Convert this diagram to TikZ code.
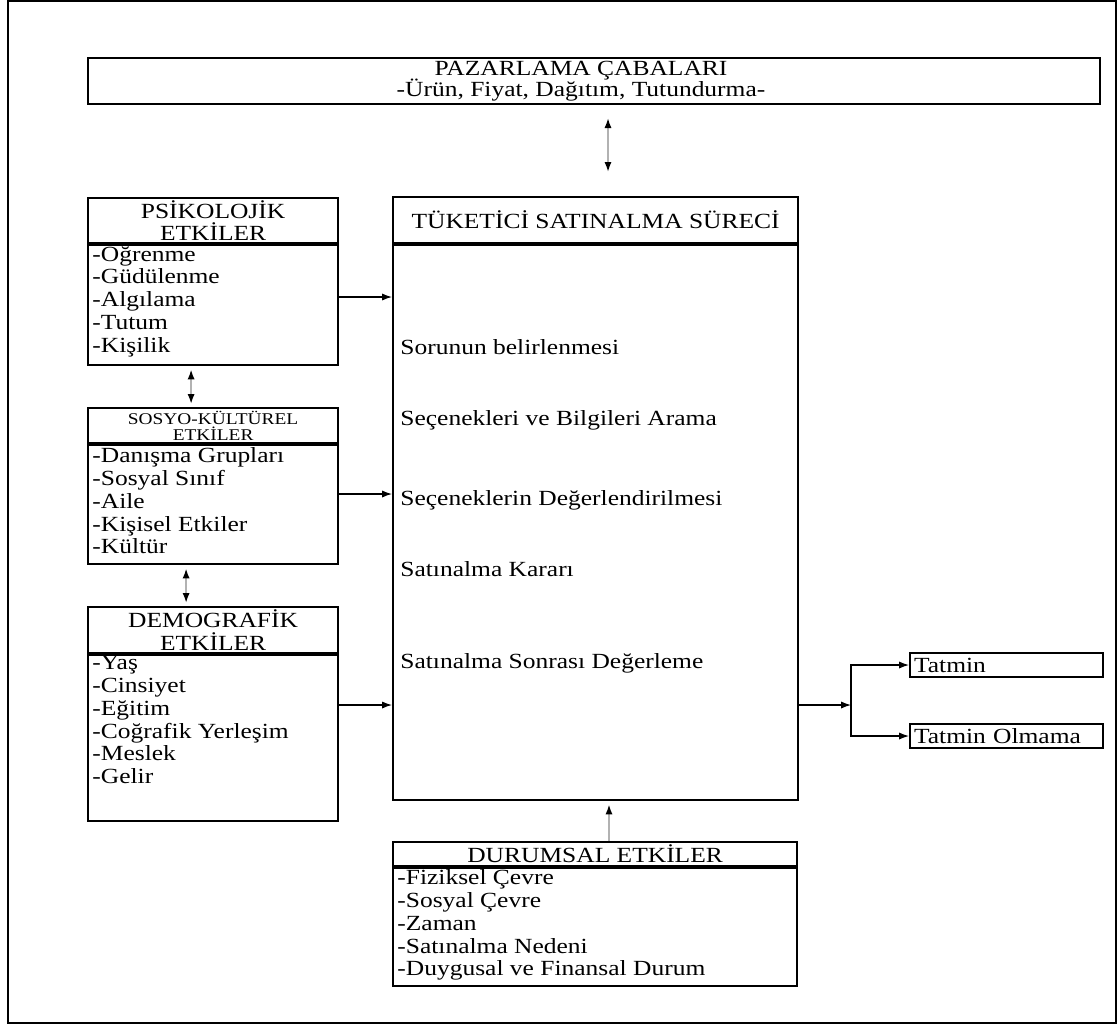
\documentclass[tikz,border=0pt]{standalone}
\usepackage{fontspec}
\setmainfont[FakeStretch=1.18]{Liberation Serif}
\usetikzlibrary{arrows.meta,positioning}

\newcommand{\itemfont}{\fontsize{10.8}{11.4}\selectfont}
\newcommand{\smallhead}{\fontsize{8.2}{8}\selectfont}
\newcommand{\tightfont}{\fontsize{10.8}{10.4}\selectfont\lineskiplimit=-5pt\relax}

\begin{document}
\begin{tikzpicture}[x=0.5pt, y=-0.5pt, font=\itemfont,
  box/.style={draw, line width=1.1pt, inner sep=0pt, anchor=north west},
  head/.style={box, align=center},
  lst/.style={anchor=north west, align=left, inner sep=0pt},
  stage/.style={anchor=base west, inner sep=0pt},
  flow/.style={-{Latex[length=5pt,width=3.6pt]}, line width=0.6pt},
  rise/.style={-{Latex[length=5pt,width=3.6pt,color=black]}, line width=0.9pt, draw=gray!60},
  link/.style={{Latex[length=5pt,width=3.6pt,color=black]}-{Latex[length=5pt,width=3.6pt,color=black]}, line width=0.9pt, draw=gray!60}]

  \useasboundingbox (0,0) rectangle (1117,1025);
  \draw[line width=0.7pt] (8,1) rectangle (1116,1023);

  % marketing efforts
  \node[box, minimum width=506pt, minimum height=23pt] (pazar) at (87,57) {};
  \node[align=center, inner sep=0pt, font=\tightfont] (pazarT) at (581,81)
    {PAZARLAMA ÇABALARI\\-Ürün, Fiyat, Dağıtım, Tutundurma-};

  % left column
  \node[head, minimum width=125pt, minimum height=22.5pt] (psikoH) at (87,197) {PSİKOLOJİK\\ETKİLER};
  \node[box, minimum width=125pt, minimum height=60pt] (psiko) at (psikoH.south west) {};
  \node[lst] (psikoL) at ([xshift=2.5pt, yshift=0.5pt]psiko.north west)
    {-Öğrenme\\-Güdülenme\\-Algılama\\-Tutum\\-Kişilik};

  \node[head, minimum width=125pt, minimum height=17.5pt, font=\smallhead] (sosyoH) at (87,407) {SOSYO-KÜLTÜREL\\ETKİLER};
  \node[box, minimum width=125pt, minimum height=59.5pt] (sosyo) at (sosyoH.south west) {};
  \node[lst] (sosyoL) at ([xshift=2.5pt, yshift=-1.5pt]sosyo.north west)
    {-Danışma Grupları\\-Sosyal Sınıf\\-Aile\\-Kişisel Etkiler\\-Kültür};

  \node[head, minimum width=125pt, minimum height=23pt] (demoH) at (87,606) {DEMOGRAFİK\\ETKİLER};
  \node[box, minimum width=125pt, minimum height=83pt] (demo) at (demoH.south west) {};
  \node[lst] (demoL) at ([xshift=2.5pt, yshift=-0.5pt]demo.north west)
    {-Yaş\\-Cinsiyet\\-Eğitim\\-Coğrafik Yerleşim\\-Meslek\\-Gelir};

  % purchase process
  \node[head, minimum width=202.5pt, minimum height=23pt] (procH) at (392,196) {TÜKETİCİ SATINALMA SÜRECİ};
  \node[box, minimum width=202.5pt, minimum height=277.5pt] (proc) at (procH.south west) {};
  \node[stage] (s1) at (400,354) {Sorunun belirlenmesi};
  \node[stage] (s2) at (400,425) {Seçenekleri ve Bilgileri Arama};
  \node[stage] (s3) at (400,505) {Seçeneklerin Değerlendirilmesi};
  \node[stage] (s4) at (400,576) {Satınalma Kararı};
  \node[stage] (s5) at (400,668) {Satınalma Sonrası Değerleme};

  % situational factors
  \node[head, minimum width=202pt, minimum height=12pt] (durumH) at (392,841) {DURUMSAL ETKİLER};
  \node[box, minimum width=202pt, minimum height=59pt] (durum) at (durumH.south west) {};
  \node[lst] (durumL) at ([xshift=2.5pt, yshift=-1pt]durum.north west)
    {-Fiziksel Çevre\\-Sosyal Çevre\\-Zaman\\-Satınalma Nedeni\\-Duygusal ve Finansal Durum};

  % outcomes
  \node[box, anchor=west, minimum width=96.5pt, minimum height=12pt, text width=92.5pt, align=left, inner xsep=2pt] (tatmin) at (909,665) {Tatmin};
  \node[box, anchor=west, minimum width=96.5pt, minimum height=12pt, text width=92.5pt, align=left, inner xsep=2pt] (olmama) at (909,736) {Tatmin Olmama};

  % connectors
  \path (0,297) coordinate (rowA) (0,494) coordinate (rowB) (0,705) coordinate (rowC);
  \coordinate (split) at (851,705);
  \coordinate (topA) at (608,118);
  \coordinate (topB) at (608,172);
  \coordinate (durumUp) at (609,841);

  \draw[link] (topA) -- (topB);
  \draw[flow] (psiko.east |- rowA) -- (proc.west |- rowA);
  \draw[flow] (sosyo.east |- rowB) -- (proc.west |- rowB);
  \draw[flow] (demo.east |- rowC) -- (proc.west |- rowC);
  \draw[link, shorten <=1.5pt, shorten >=1.5pt] ([xshift=-11pt]psiko.south) -- ([xshift=-11pt]sosyoH.north);
  \draw[link, shorten <=1.5pt, shorten >=1.5pt] ([xshift=-13.5pt]sosyo.south) -- ([xshift=-13.5pt]demoH.north);
  \draw[rise, shorten >=1.5pt] (durumUp) -- (durumUp |- proc.south);
  \draw[flow] (proc.east |- rowC) -- (split);
  \draw[flow] (split |- olmama.west) -- (split |- tatmin.west) -- (tatmin.west);
  \draw[flow] (split) |- (olmama.west);
\end{tikzpicture}
\end{document}
